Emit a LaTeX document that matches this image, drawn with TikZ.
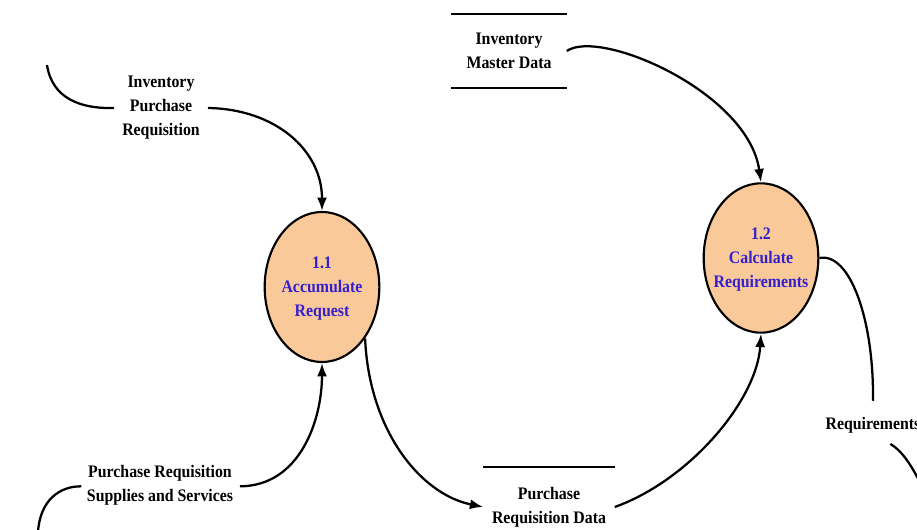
\documentclass[tikz,border=0pt]{standalone}
\usepackage{fontspec}
\setmainfont{Liberation Serif}[FakeStretch=0.9]
\usetikzlibrary{arrows.meta,shapes.geometric}
\definecolor{procfill}{RGB}{249,201,153}
\definecolor{proctext}{RGB}{52,32,205}
\tikzset{
  flow/.style={line width=1.7pt,-{Latex[length=10pt,width=7.5pt]}},
  flowplain/.style={line width=1.7pt},
  proc/.style={ellipse,draw,line width=1.6pt,fill=procfill,inner sep=0pt},
  proclabel/.style={text=proctext,align=center,font=\fontsize{13.2}{18}\selectfont\bfseries},
  lbl/.style={align=center,inner sep=0pt,font=\fontsize{13.2}{18}\selectfont\bfseries},
  store/.style={inner sep=0pt,align=center,font=\fontsize{13.2}{18}\selectfont\bfseries},
  storeline/.style={line width=1.7pt}
}
\begin{document}
\begin{tikzpicture}[x=0.75pt,y=-0.75pt]
\useasboundingbox (0,0) rectangle (917,530);
\clip (0,0) rectangle (917,530);

% processes
\node[proc,minimum width=86pt,minimum height=112.5pt,
      label={[proclabel,yshift=-1.5pt]center:{1.1\\Accumulate\\Request}}] (p11) at (322,287) {};
\node[proc,minimum width=86pt,minimum height=112pt,
      label={[proclabel,yshift=-1pt]center:{1.2\\Calculate\\Requirements}}] (p12) at (761,258) {};

% data stores
\node[store,minimum width=86.25pt,minimum height=54.75pt] (ims) at (509,51) {Inventory\\Master Data};
\draw[storeline] (ims.north west) -- (ims.north east);
\draw[storeline] (ims.south west) -- (ims.south east);

\node[store,minimum width=98.25pt,minimum height=60pt] (prd) at (549,507) {Purchase\\Requisition Data};
\draw[storeline] (prd.north west) -- (prd.north east);

% flow labels
\node[lbl] (ipr) at (161,108) {Inventory\\Purchase\\Requisition};
\node[lbl] (prss) at (160,485) {Purchase Requisition\\Supplies and Services};
\node[lbl] (req) at (873,425) {Requirements};

% free ends of flows leaving the picture
\coordinate (s1) at (47,65);
\coordinate (s2) at (38,532);
\coordinate (e1) at (930,505);

% flows
\draw[flowplain] (s1) .. controls (52,98) and (80,109) .. ([xshift=-6pt]ipr.west);
\draw[flow] ([xshift=6pt]ipr.east) .. controls (275,109) and (322,150) .. (p11.north);

\draw[flowplain] (s2) .. controls (40,500) and (60,486) .. ([xshift=-4pt,yshift=-1pt]prss.west);
\draw[flow] ([xshift=5pt,yshift=-1pt]prss.east) .. controls (300,486) and (322,420) .. (p11.south);

\draw[flow] (p11.-50) .. controls (369,430) and (420,494) .. (prd.west);
\draw[flow] (prd.east) .. controls (690,480) and (757,400) .. (p12.south);

\draw[flow] (ims.east) .. controls (600,28) and (748,92) .. (p12.north);

\draw[flowplain] (p12.east) .. controls (850,252) and (874,320) .. ([yshift=12pt]req.north);
\draw[flowplain] ([xshift=13pt,yshift=-8pt]req.south) .. controls (902,451) and (914,466) .. (e1);
\end{tikzpicture}
\end{document}
